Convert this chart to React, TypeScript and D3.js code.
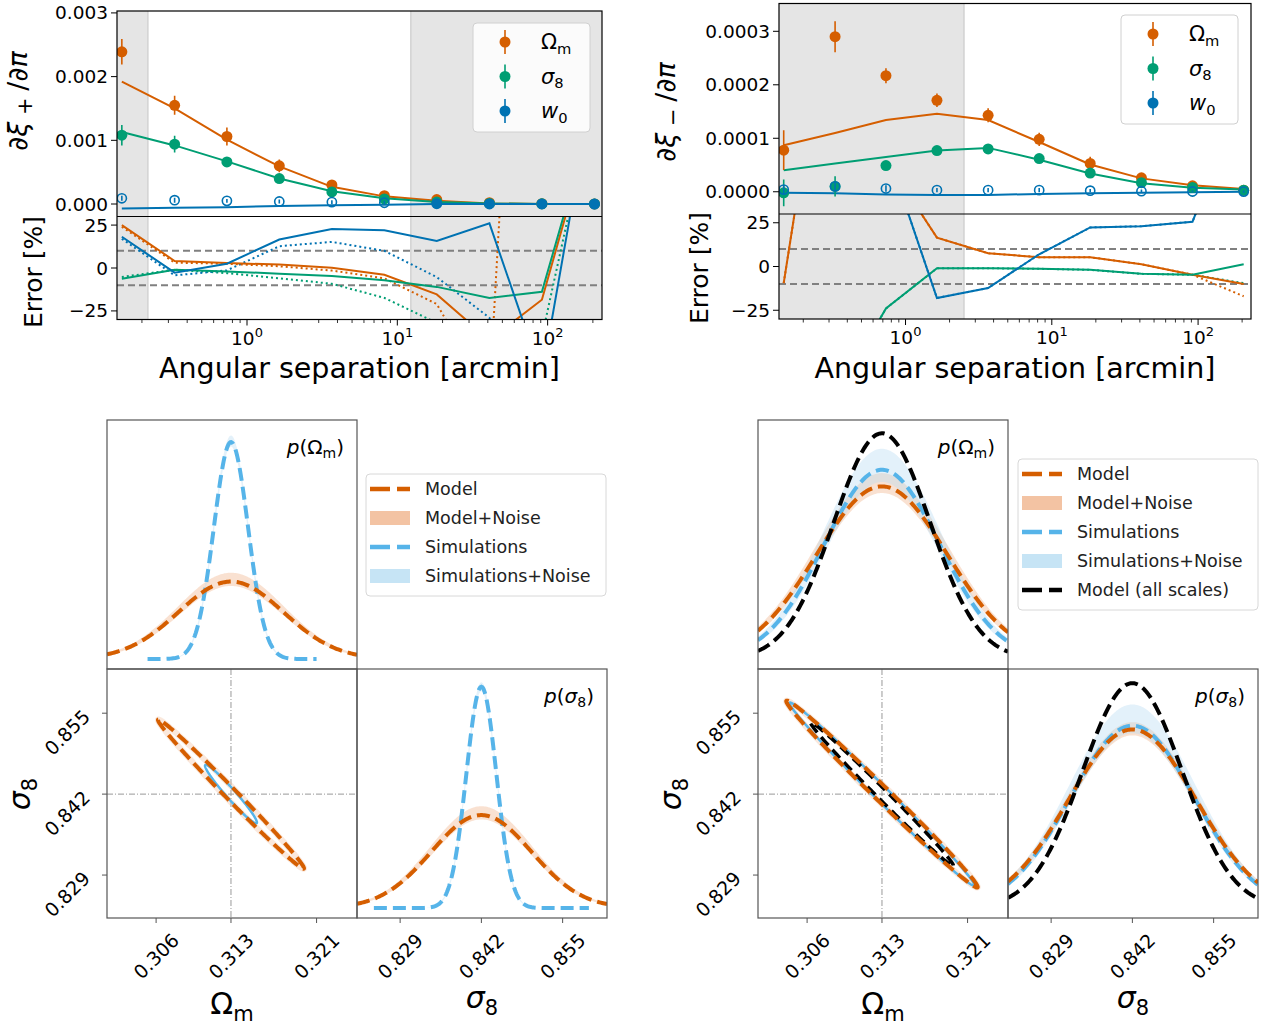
import React from "react";
import * as d3 from "d3";

const FONT = "'DejaVu Sans', sans-serif";
const C_OM = "#D55E00";
const C_S8 = "#009E73";
const C_W0 = "#0072B2";
const C_SIM = "#56B4E9";
const C_MODEL_NOISE = "#F0B48C";
const C_SIM_NOISE = "#B8DDF3";

// ---------- top row: derivatives vs angular separation ----------
const theta = [0.147, 0.33, 0.735, 1.64, 3.67, 8.2, 18.3, 41, 91.6, 205];
const thetaRange = [0.1365, 230];
const errRange = [-30, 30];
const errTicks = [25, 0, -25];
const errGuides = [-10, 10];

// xi_+
const xipOmPts = [0.00239, 0.00155, 0.00106, 0.0006, 0.0003, 0.00013, 0.00007, 0.00002, 0.000005, 0.000002];
const xipOmErr = [0.0002, 0.00015, 0.00014, 0.0001, 0.00005, 0.00003, 0.00002, 0.00002, 0.00001, 0.00001];
const xipS8Pts = [0.00108, 0.00094, 0.00066, 0.0004, 0.00019, 0.00008, 0.00003, 0.00001, 0.000003, 0.000001];
const xipS8Err = [0.00016, 0.00013, 0.00008, 0.00005, 0.00004, 0.00002, 0.00002, 0.00001, 0.00001, 0.00001];
const xipW0Pts = [0.00009, 0.00006, 0.00005, 0.00004, 0.00003, 0.00002, 0.000005, 0.000002, 0.000001, 0];
const xipW0Err = [0.00004, 0.00004, 0.00003, 0.00003, 0.00003, 0.00003, 0.00001, 0.00001, 0.00001, 0.00001];
const xipW0Neg = [1, 1, 1, 1, 1, 1, 0, 0, 0, 0];
const xipOmModel = [0.00192, 0.0015, 0.00101, 0.00059, 0.00027, 0.00012, 0.00005, 0.00001, 0, 0];
const xipS8Model = [0.00113, 0.00092, 0.00067, 0.0004, 0.0002, 0.00009, 0.00003, 0.00001, 0, 0];
const xipW0Model = [-0.00007, -0.00006, -0.00005, -0.00003, -0.00002, -0.00001, 0, 0, 0, 0];
const xipOmErrPct = [25, 4.1, 2.9, 2.0, 0.2, -3.9, -15.4, -42, -18.5, 90];
const xipS8ErrPct = [-6.2, -1, -2, -3.3, -4.7, -7.2, -11, -17.4, -13.9, 93];
const xipW0ErrPct = [18.2, -2.7, 2.5, 16.6, 22.7, 22, 15.8, 26, -63, 111];
const xipOmErrPctDot = [24, 3.1, 2.5, 1, -1.5, -6, -21, -74, 470, 400];
const xipS8ErrPctDot = [-5.2, -1, -3, -6, -9.2, -17.4, -32, -60, -40, 100];
const xipW0ErrPctDot = [17, -4.3, -1.4, 12.7, 15.2, 10, -5.3, -29, -100, -150];
const xipShades = [[0.1365, 0.219], [12.3, 230]];
const xipYTicks = [0, 0.001, 0.002, 0.003];

// xi_-
const ximOmPts = [0.0000778, 0.00029, 0.000217, 0.000171, 0.000143, 0.000098, 0.000053, 0.000026, 0.000011, 0.000003];
const ximOmErr = [0.000037, 0.000029, 0.000014, 0.0000125, 0.000013, 0.0000125, 0.0000125, 0.000008, 0.000005, 0.000003];
const ximS8Pts = [-0.000002, 0.00001, 0.000049, 0.000077, 0.00008, 0.000062, 0.000035, 0.000017, 0.000008, 0.000003];
const ximS8Err = [0.000025, 0.000019, 0.000008, 0.000006, 0.000006, 0.000006, 0.000006, 0.000005, 0.000004, 0.000003];
const ximW0Pts = [0.000004, 0.00001, 0.000006, 0.000003, 0.000003, 0.000003, 0.000002, 0.000001, 0.0000005, 0.0000003];
const ximW0Err = [0.000008, 0.000008, 0.000006, 0.000004, 0.000004, 0.000004, 0.000003, 0.000003, 0.000002, 0.000002];
const ximW0Neg = [1, 1, 1, 1, 1, 1, 1, 1, 1, 1];
const ximOmModel = [0.000087, 0.00011, 0.000134, 0.000146, 0.000134, 0.000093, 0.000051, 0.000025, 0.000012, 0.000005];
const ximS8Model = [0.00004, 0.000053, 0.000065, 0.000077, 0.000082, 0.00006, 0.000034, 0.000016, 0.0000075, 0.000004];
const ximW0Model = [-0.000002, -0.000003, -0.000005, -0.000006, -0.000006, -0.000004, -0.000003, -0.000002, -0.000001, 0];
const ximOmErrPct = [-9.5, 178, 61, 16.5, 7.6, 5.3, 5.3, 1.3, -4.7, -10];
const ximS8ErrPct = [-100, -74, -24, -1, -1, -1.3, -1.9, -4.2, -4.7, 1.3];
const ximW0ErrPct = [120, 150, 67.7, -18, -12.3, 7, 22.3, 23, 25.6, 100];
const ximOmErrPctDot = [-9.5, 178, 61, 16.5, 7.6, 5.3, 5.3, 1.3, -4.7, -17];
const ximS8ErrPctDot = [-100, -74, -24, -1, -1, -1.3, -1.9, -4.2, -4.7, -9.5];
const ximW0ErrPctDot = [120, 150, 67.7, -18, -12.3, 7, 22.3, 23, 25.6, 100];
const ximShades = [[0.1365, 2.51]];
const ximYTicks = [0, 0.0001, 0.0002, 0.0003];

// ---------- bottom row: posteriors ----------
const omTicks = [0.306, 0.313, 0.321];
const s8Ticks = [0.829, 0.842, 0.855];
const omRange = [0.30141, 0.32478];
const s8Range = [0.8221, 0.8621];
const densRange = [-0.045, 1.08];
const truth = [0.313, 0.842];

// left corner plot: [Omega_m, sigma_8]
const leftModelSigma = [0.0049, 0.008];
const leftModelPeak = [0.35, 0.42];
const leftModelNoisePeak = [[0.33, 0.39], [0.4, 0.46]];
const leftSimSigma = [0.0016, 0.0024];
const leftSimPeak = [0.98, 1.0];
const leftSimNoisePeak = [[0.96, 1.01], [0.98, 1.02]];
const leftSimSpan = [[0.3052, 0.321], [0.8248, 0.8592]];
const leftModelEll = [0.0045, 0.0079, -0.994];
const leftSimEll = [0.0016, 0.0031, -0.97];

// right corner plot
const rightModelSigma = [0.0061, 0.0102];
const rightModelPeak = [0.78, 0.807];
const rightModelNoisePeak = [[0.75, 0.84], [0.78, 0.84]];
const rightSimSigma = [0.0054, 0.0099];
const rightSimPeak = [0.855, 0.824];
const rightSimNoisePeak = [[0.8, 0.95], [0.79, 0.92]];
const rightAllSigma = [0.0045, 0.008];
const rightAllPeak = [1.02, 1.016];
const rightModelEll = [0.0059, 0.0099, -0.994];
const rightSimEll = [0.0057, 0.0097, -0.994];
const rightAllEll = [0.0044, 0.0076, -0.995];

const K68 = Math.sqrt(2.3);

function Sub({ children, size, dy }) {
  return <tspan fontSize={size} dy={dy}>{children}</tspan>;
}

function ParamLabel({ p, x, y, size, anchor = "start" }) {
  const s = size * 0.7;
  const d = size * 0.22;
  if (p === "Om")
    return (
      <text x={x} y={y} fontSize={size} fontFamily={FONT} textAnchor={anchor}>
        Ω<Sub size={s} dy={d}>m</Sub>
      </text>
    );
  if (p === "s8")
    return (
      <text x={x} y={y} fontSize={size} fontFamily={FONT} textAnchor={anchor}>
        <tspan fontStyle="italic">σ</tspan>
        <Sub size={s} dy={d}>8</Sub>
      </text>
    );
  return (
    <text x={x} y={y} fontSize={size} fontFamily={FONT} textAnchor={anchor}>
      <tspan fontStyle="italic">w</tspan>
      <Sub size={s} dy={d}>0</Sub>
    </text>
  );
}

function DerivPanel({ cfg }) {
  const { id, x0, x1, yTop, yMid, yBot, yDomain, yTicks, digits, shades, series, sign, ylab, errLab, legend } = cfg;
  const xs = d3.scaleLog().domain(thetaRange).range([x0, x1]);
  const ys = d3.scaleLinear().domain(yDomain).range([yMid, yTop]);
  const es = d3.scaleLinear().domain(errRange).range([yBot, yMid]);
  const mLine = d3.line().x((_, i) => xs(theta[i])).y((d) => ys(d));
  const eLine = d3.line().x((_, i) => xs(theta[i])).y((d) => es(d));
  const ticks = xs.ticks();
  const isMajor = (t) => Math.abs(Math.log10(t) - Math.round(Math.log10(t))) < 1e-6;
  const fmt = d3.format(`.${digits}f`);
  return (
    <g>
      <defs>
        <clipPath id={`${id}-err`}>
          <rect x={x0} y={yMid} width={x1 - x0} height={yBot - yMid} />
        </clipPath>
        <clipPath id={`${id}-main`}>
          <rect x={x0} y={yTop} width={x1 - x0} height={yMid - yTop} />
        </clipPath>
      </defs>
      {shades.map(([a, b], i) => (
        <g key={i}>
          <rect x={xs(a)} y={yTop} width={xs(b) - xs(a)} height={yBot - yTop} fill="#e5e5e5" />
          {a > thetaRange[0] && <line x1={xs(a)} x2={xs(a)} y1={yTop} y2={yBot} stroke="#d2d2d2" strokeWidth={1.5} />}
          {b < thetaRange[1] && <line x1={xs(b)} x2={xs(b)} y1={yTop} y2={yBot} stroke="#d2d2d2" strokeWidth={1.5} />}
        </g>
      ))}
      {errGuides.map((g) => (
        <line key={g} x1={x0} x2={x1} y1={es(g)} y2={es(g)} stroke="#808080" strokeWidth={2} strokeDasharray="7,4" />
      ))}
      <g clipPath={`url(#${id}-err)`}>
        {series.map((s) => (
          <path key={s.p + "d"} d={eLine(s.errDot)} fill="none" stroke={s.color} strokeWidth={2} strokeDasharray="2,3" />
        ))}
        {series.map((s) => (
          <path key={s.p + "s"} d={eLine(s.errPct)} fill="none" stroke={s.color} strokeWidth={2} />
        ))}
      </g>
      <g clipPath={`url(#${id}-main)`}>
        {series.map((s) => (
          <path key={s.p} d={mLine(s.model)} fill="none" stroke={s.color} strokeWidth={2} />
        ))}
        {series.map((s) =>
          s.pts.map((v, i) => {
            const cx = xs(theta[i]);
            const hollow = s.neg && s.neg[i];
            return (
              <g key={s.p + i}>
                <line x1={cx} x2={cx} y1={ys(v - s.err[i])} y2={ys(v + s.err[i])} stroke={s.color} strokeWidth={1.6} />
                {hollow ? (
                  <circle cx={cx} cy={ys(v)} r={4.6} fill="none" stroke={s.color} strokeWidth={1.6} />
                ) : (
                  <circle cx={cx} cy={ys(v)} r={5.5} fill={s.color} />
                )}
              </g>
            );
          })
        )}
      </g>
      <rect x={x0} y={yTop} width={x1 - x0} height={yBot - yTop} fill="none" stroke="#000" strokeWidth={1.2} />
      <line x1={x0} x2={x1} y1={yMid} y2={yMid} stroke="#000" strokeWidth={1.2} />
      {yTicks.map((t) => (
        <g key={t}>
          <line x1={x0 - 6} x2={x0} y1={ys(t)} y2={ys(t)} stroke="#000" strokeWidth={1} />
          <text x={x0 - 9} y={ys(t) + 6.5} textAnchor="end" fontSize={18.5} fontFamily={FONT}>
            {fmt(t)}
          </text>
        </g>
      ))}
      {errTicks.map((t) => (
        <g key={t}>
          <line x1={x0 - 6} x2={x0} y1={es(t)} y2={es(t)} stroke="#000" strokeWidth={1} />
          <text x={x0 - 9} y={es(t) + 6.5} textAnchor="end" fontSize={18.5} fontFamily={FONT}>
            {t < 0 ? `\u2212${-t}` : t}
          </text>
        </g>
      ))}
      {ticks.map((t) => {
        const major = isMajor(t);
        return (
          <g key={t}>
            <line x1={xs(t)} x2={xs(t)} y1={yBot} y2={yBot + (major ? 6 : 3.5)} stroke="#000" strokeWidth={major ? 1 : 0.8} />
            {major && (
              <text x={xs(t)} y={yBot + 25} textAnchor="middle" fontSize={18.5} fontFamily={FONT}>
                10<tspan fontSize={13} dy={-8}>{Math.round(Math.log10(t))}</tspan>
              </text>
            )}
          </g>
        );
      })}
      <text x={(x0 + x1) / 2} y={378} textAnchor="middle" fontSize={28.5} fontFamily={FONT}>
        Angular separation [arcmin]
      </text>
      <text transform={`translate(${ylab[0]},${ylab[1]}) rotate(-90)`} textAnchor="middle" fontSize={27} fontFamily={FONT}>
        ∂<tspan fontStyle="italic">ξ</tspan>
        <tspan fontSize={21} dy={5}>{sign === "+" ? " + " : " \u2212 "}</tspan>
        <tspan dy={-5}>/∂</tspan>
        <tspan fontStyle="italic">π</tspan>
      </text>
      <text transform={`translate(${errLab[0]},${errLab[1]}) rotate(-90)`} textAnchor="middle" fontSize={25} fontFamily={FONT}>
        Error [%]
      </text>
      <g>
        <rect x={legend.x} y={legend.y} width={117} height={109} rx={4} fill="#fff" fillOpacity={0.85} stroke="#d0d0d0" />
        {series.map((s, i) => {
          const cy = legend.y + 19 + i * 34.5;
          const mx = legend.x + 32;
          return (
            <g key={s.p}>
              <line x1={mx} x2={mx} y1={cy - 12} y2={cy + 12} stroke={s.color} strokeWidth={1.6} />
              <circle cx={mx} cy={cy} r={5.5} fill={s.color} />
              <ParamLabel p={s.p} x={legend.x + 68} y={cy + 7} size={21} />
            </g>
          );
        })}
      </g>
    </g>
  );
}

function gaussLine(xs, ys, mean, sigma, peak, span) {
  const pts = d3.range(201).map((i) => span[0] + ((span[1] - span[0]) * i) / 200);
  return d3.line().x((v) => xs(v)).y((v) => ys(peak * Math.exp(-0.5 * ((v - mean) / sigma) ** 2)))(pts);
}

function gaussBand(xs, ys, mean, sigma, peaks, span) {
  const pts = d3.range(201).map((i) => span[0] + ((span[1] - span[0]) * i) / 200);
  return d3
    .area()
    .x((v) => xs(v))
    .y0((v) => ys(peaks[0] * Math.exp(-0.5 * ((v - mean) / (sigma * 0.985)) ** 2)))
    .y1((v) => ys(peaks[1] * Math.exp(-0.5 * ((v - mean) / (sigma * 1.015)) ** 2)))(pts);
}

function ellipsePath(xs, ys, ell) {
  const [sx, sy, rho] = ell;
  const pts = d3.range(240).map((i) => {
    const t = (i / 240) * Math.PI * 2;
    const a = K68 * Math.cos(t);
    const b = K68 * Math.sin(t);
    return [truth[0] + sx * a, truth[1] + sy * (rho * a + Math.sqrt(1 - rho * rho) * b)];
  });
  return d3.line().x((p) => xs(p[0])).y((p) => ys(p[1])).curve(d3.curveLinearClosed)(pts);
}

function Corner({ cfg }) {
  const { id, ox, model, sim, all, legend } = cfg;
  const top = 420;
  const mid = 669;
  const bot = 918;
  const w = 250;
  const omX = d3.scaleLinear().domain(omRange).range([ox, ox + w]);
  const s8X = d3.scaleLinear().domain(s8Range).range([ox + w, ox + 2 * w]);
  const s8Y = d3.scaleLinear().domain(s8Range).range([bot, mid]);
  const diag = [
    { xs: omX, ys: d3.scaleLinear().domain(densRange).range([mid, top]), dom: omRange },
    { xs: s8X, ys: d3.scaleLinear().domain(densRange).range([bot, mid]), dom: s8Range },
  ];
  const dash = "13,6";
  const boxes = [
    [ox, top],
    [ox, mid],
    [ox + w, mid],
  ];
  return (
    <g>
      <defs>
        {boxes.map(([bx, by], i) => (
          <clipPath key={i} id={`${id}-c${i}`}>
            <rect x={bx} y={by} width={w} height={bot - mid} />
          </clipPath>
        ))}
      </defs>
      {diag.map((d, i) => (
        <g key={i} clipPath={`url(#${id}-c${i === 0 ? 0 : 2})`}>
          <path d={gaussBand(d.xs, d.ys, truth[i], model.sigma[i], model.noise[i], d.dom)} fill={C_MODEL_NOISE} fillOpacity={0.4} />
          <path
            d={gaussBand(d.xs, d.ys, truth[i], sim.sigma[i], sim.noise[i], sim.span ? sim.span[i] : d.dom)}
            fill={C_SIM_NOISE}
            fillOpacity={0.4}
          />
          <path
            d={gaussLine(d.xs, d.ys, truth[i], sim.sigma[i], sim.peak[i], sim.span ? sim.span[i] : d.dom)}
            fill="none"
            stroke={C_SIM}
            strokeWidth={4}
            strokeDasharray={dash}
          />
          <path
            d={gaussLine(d.xs, d.ys, truth[i], model.sigma[i], model.peak[i], d.dom)}
            fill="none"
            stroke={C_OM}
            strokeWidth={4}
            strokeDasharray={dash}
          />
          {all && (
            <path
              d={gaussLine(d.xs, d.ys, truth[i], all.sigma[i], all.peak[i], d.dom)}
              fill="none"
              stroke="#000"
              strokeWidth={4}
              strokeDasharray={dash}
            />
          )}
        </g>
      ))}
      <g clipPath={`url(#${id}-c1)`}>
        <line x1={omX(truth[0])} x2={omX(truth[0])} y1={mid} y2={bot} stroke="#999" strokeWidth={1} strokeDasharray="6,2,1,2" />
        <line x1={ox} x2={ox + w} y1={s8Y(truth[1])} y2={s8Y(truth[1])} stroke="#999" strokeWidth={1} strokeDasharray="6,2,1,2" />
        <path d={ellipsePath(omX, s8Y, model.ell)} fill="none" stroke={C_MODEL_NOISE} strokeOpacity={0.3} strokeWidth={6} />
        <path d={ellipsePath(omX, s8Y, sim.ell)} fill="none" stroke={C_SIM} strokeWidth={2.5} />
        {all && <path d={ellipsePath(omX, s8Y, all.ell)} fill="none" stroke="#000" strokeWidth={3.5} strokeDasharray="11,6" />}
        <path d={ellipsePath(omX, s8Y, model.ell)} fill="none" stroke={C_OM} strokeWidth={4} strokeDasharray={dash} />
      </g>
      {boxes.map(([bx, by], i) => (
        <rect key={i} x={bx} y={by} width={w} height={bot - mid} fill="none" stroke="#555" strokeWidth={1.2} />
      ))}
      <text x={ox + w - 13} y={top + 34} textAnchor="end" fontSize={20} fontFamily={FONT}>
        <tspan fontStyle="italic">p</tspan>(Ω<tspan fontSize={14} dy={4}>m</tspan>
        <tspan dy={-4}>)</tspan>
      </text>
      <text x={ox + 2 * w - 13} y={mid + 34} textAnchor="end" fontSize={20} fontFamily={FONT}>
        <tspan fontStyle="italic">p</tspan>(<tspan fontStyle="italic">σ</tspan>
        <tspan fontSize={14} dy={4}>8</tspan>
        <tspan dy={-4}>)</tspan>
      </text>
      {omTicks.map((t) => (
        <g key={"o" + t}>
          <line x1={omX(t)} x2={omX(t)} y1={bot} y2={bot + 5} stroke="#555" />
          <text transform={`translate(${omX(t)},${bot + 38}) rotate(-45)`} textAnchor="middle" dominantBaseline="central" fontSize={19} fontFamily={FONT}>
            {t.toFixed(3)}
          </text>
        </g>
      ))}
      {s8Ticks.map((t) => (
        <g key={"s" + t}>
          <line x1={s8X(t)} x2={s8X(t)} y1={bot} y2={bot + 5} stroke="#555" />
          <text transform={`translate(${s8X(t)},${bot + 38}) rotate(-45)`} textAnchor="middle" dominantBaseline="central" fontSize={19} fontFamily={FONT}>
            {t.toFixed(3)}
          </text>
          <line x1={ox - 5} x2={ox} y1={s8Y(t)} y2={s8Y(t)} stroke="#555" />
          <text transform={`translate(${ox - 40},${s8Y(t) + 19}) rotate(-45)`} textAnchor="middle" dominantBaseline="central" fontSize={19} fontFamily={FONT}>
            {t.toFixed(3)}
          </text>
        </g>
      ))}
      <ParamLabel p="Om" x={ox + w / 2} y={1014} size={30} anchor="middle" />
      <ParamLabel p="s8" x={ox + 1.5 * w} y={1008} size={30} anchor="middle" />
      <g transform={`translate(${ox - 77},${s8Y(truth[1])}) rotate(-90)`}>
        <ParamLabel p="s8" x={0} y={0} size={30} anchor="middle" />
      </g>
      <g>
        <rect x={legend.x} y={legend.y} width={240} height={legend.items.length * 29 + 6} rx={4} fill="#fff" stroke="#d8d8d8" />
        {legend.items.map((it, i) => {
          const cy = legend.y + 15 + i * 29;
          const hx = legend.x + 4;
          return (
            <g key={it.label}>
              {it.kind === "line" ? (
                <line x1={hx} x2={hx + 40} y1={cy} y2={cy} stroke={it.color} strokeWidth={4.5} strokeDasharray="20,7" />
              ) : (
                <rect x={hx} y={cy - 7} width={40} height={14} fill={it.color} fillOpacity={0.8} />
              )}
              <text x={legend.x + 59} y={cy + 6} fontSize={17.5} fontFamily={FONT} fill="#222">
                {it.label}
              </text>
            </g>
          );
        })}
      </g>
    </g>
  );
}

export default function App() {
  const xip = {
    id: "xip",
    x0: 117,
    x1: 602,
    yTop: 11,
    yMid: 216.5,
    yBot: 319.5,
    yDomain: [-0.000196, 0.00303],
    yTicks: xipYTicks,
    digits: 3,
    shades: xipShades,
    sign: "+",
    ylab: [27, 101],
    errLab: [42, 272],
    legend: { x: 473, y: 23 },
    series: [
      { p: "Om", color: C_OM, pts: xipOmPts, err: xipOmErr, model: xipOmModel, errPct: xipOmErrPct, errDot: xipOmErrPctDot },
      { p: "s8", color: C_S8, pts: xipS8Pts, err: xipS8Err, model: xipS8Model, errPct: xipS8ErrPct, errDot: xipS8ErrPctDot },
      { p: "w0", color: C_W0, pts: xipW0Pts, err: xipW0Err, neg: xipW0Neg, model: xipW0Model, errPct: xipW0ErrPct, errDot: xipW0ErrPctDot },
    ],
  };
  const xim = {
    id: "xim",
    x0: 779,
    x1: 1251,
    yTop: 3.5,
    yMid: 214,
    yBot: 319,
    yDomain: [-0.0000416, 0.000352],
    yTicks: ximYTicks,
    digits: 4,
    shades: ximShades,
    sign: "-",
    ylab: [675, 112],
    errLab: [708, 268],
    legend: { x: 1121, y: 15 },
    series: [
      { p: "Om", color: C_OM, pts: ximOmPts, err: ximOmErr, model: ximOmModel, errPct: ximOmErrPct, errDot: ximOmErrPctDot },
      { p: "s8", color: C_S8, pts: ximS8Pts, err: ximS8Err, model: ximS8Model, errPct: ximS8ErrPct, errDot: ximS8ErrPctDot },
      { p: "w0", color: C_W0, pts: ximW0Pts, err: ximW0Err, neg: ximW0Neg, model: ximW0Model, errPct: ximW0ErrPct, errDot: ximW0ErrPctDot },
    ],
  };
  const baseLegend = [
    { label: "Model", kind: "line", color: C_OM },
    { label: "Model+Noise", kind: "patch", color: C_MODEL_NOISE },
    { label: "Simulations", kind: "line", color: C_SIM },
    { label: "Simulations+Noise", kind: "patch", color: C_SIM_NOISE },
  ];
  const left = {
    id: "cl",
    ox: 107,
    model: { sigma: leftModelSigma, peak: leftModelPeak, noise: leftModelNoisePeak, ell: leftModelEll },
    sim: { sigma: leftSimSigma, peak: leftSimPeak, noise: leftSimNoisePeak, span: leftSimSpan, ell: leftSimEll },
    all: null,
    legend: { x: 366, y: 474, items: baseLegend },
  };
  const right = {
    id: "cr",
    ox: 758,
    model: { sigma: rightModelSigma, peak: rightModelPeak, noise: rightModelNoisePeak, ell: rightModelEll },
    sim: { sigma: rightSimSigma, peak: rightSimPeak, noise: rightSimNoisePeak, ell: rightSimEll },
    all: { sigma: rightAllSigma, peak: rightAllPeak, ell: rightAllEll },
    legend: { x: 1018, y: 459, items: [...baseLegend, { label: "Model (all scales)", kind: "line", color: "#000" }] },
  };
  return (
    <svg width={1265} height={1025} style={{ position: "absolute", left: 0, top: 0, background: "#fff" }}>
      <rect width={1265} height={1025} fill="#fff" />
      <DerivPanel cfg={xip} />
      <DerivPanel cfg={xim} />
      <Corner cfg={left} />
      <Corner cfg={right} />
    </svg>
  );
}
